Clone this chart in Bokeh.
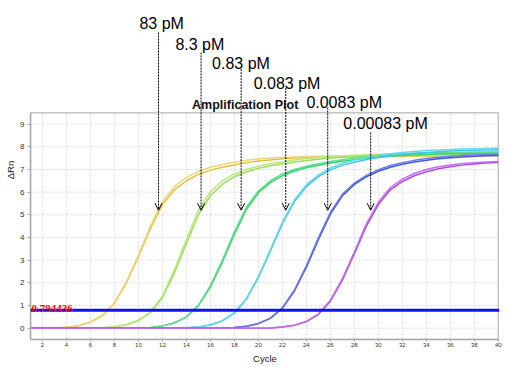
from bokeh.plotting import figure
from bokeh.models import Span, Label, Arrow, OpenHead, Range1d, FixedTicker
from bokeh.embed import file_html
from bokeh.resources import INLINE

# ---------------- data ----------------
cycles = list(range(1, 41))

y83_a = [0.00, 0.00, 0.01, 0.04, 0.11, 0.26, 0.55, 1.10, 2.00, 3.15,
         4.40, 5.45, 6.10, 6.50, 6.78, 6.97, 7.10, 7.20, 7.30, 7.37,
         7.42, 7.47, 7.50, 7.52, 7.54, 7.55, 7.56, 7.57, 7.57, 7.58,
         7.58, 7.58, 7.59, 7.59, 7.59, 7.60, 7.60, 7.60, 7.60, 7.60]
y83_b = [0.00, 0.00, 0.01, 0.04, 0.11, 0.27, 0.57, 1.13, 2.05, 3.22,
         4.50, 5.58, 6.25, 6.65, 6.92, 7.10, 7.22, 7.32, 7.40, 7.46,
         7.50, 7.53, 7.55, 7.57, 7.58, 7.59, 7.60, 7.60, 7.61, 7.61,
         7.61, 7.62, 7.62, 7.62, 7.62, 7.62, 7.62, 7.62, 7.62, 7.62]

y8_3_a = [0.00, 0.00, 0.00, 0.00, 0.00, 0.01, 0.02, 0.06, 0.15, 0.33,
          0.68, 1.35, 2.45, 3.75, 5.00, 5.85, 6.35, 6.68, 6.90, 7.05,
          7.16, 7.25, 7.33, 7.39, 7.45, 7.50, 7.54, 7.57, 7.60, 7.62,
          7.64, 7.65, 7.66, 7.67, 7.68, 7.68, 7.69, 7.69, 7.70, 7.70]
y8_3_b = [0.00, 0.00, 0.00, 0.00, 0.00, 0.01, 0.02, 0.06, 0.16, 0.35,
          0.72, 1.42, 2.58, 3.92, 5.20, 6.02, 6.50, 6.80, 7.00, 7.15,
          7.25, 7.34, 7.42, 7.48, 7.53, 7.57, 7.60, 7.63, 7.65, 7.67,
          7.68, 7.69, 7.70, 7.71, 7.71, 7.72, 7.72, 7.73, 7.73, 7.73]

y0_83_a = [0.00, 0.00, 0.00, 0.00, 0.00, 0.00, 0.00, 0.00, 0.00, 0.01,
           0.03, 0.10, 0.23, 0.49, 0.99, 1.82, 2.92, 4.15, 5.24, 5.97,
           6.42, 6.72, 6.93, 7.07, 7.18, 7.28, 7.36, 7.43, 7.49, 7.54,
           7.58, 7.61, 7.64, 7.66, 7.68, 7.69, 7.70, 7.71, 7.72, 7.72]
y0_83_b = [0.00, 0.00, 0.00, 0.00, 0.00, 0.00, 0.00, 0.00, 0.00, 0.01,
           0.03, 0.10, 0.24, 0.50, 1.02, 1.88, 3.00, 4.25, 5.33, 6.05,
           6.50, 6.80, 7.00, 7.14, 7.25, 7.35, 7.43, 7.50, 7.56, 7.61,
           7.65, 7.68, 7.70, 7.72, 7.74, 7.75, 7.76, 7.77, 7.77, 7.78]

y0_083_a = [0.00, 0.00, 0.00, 0.00, 0.00, 0.00, 0.00, 0.00, 0.00, 0.00,
            0.00, 0.00, 0.00, 0.02, 0.05, 0.14, 0.32, 0.66, 1.28, 2.23,
            3.40, 4.61, 5.58, 6.25, 6.68, 6.98, 7.18, 7.32, 7.44, 7.53,
            7.60, 7.66, 7.71, 7.75, 7.78, 7.81, 7.83, 7.85, 7.86, 7.87]
y0_083_b = [0.00, 0.00, 0.00, 0.00, 0.00, 0.00, 0.00, 0.00, 0.00, 0.00,
            0.00, 0.00, 0.00, 0.02, 0.05, 0.15, 0.33, 0.68, 1.31, 2.28,
            3.47, 4.68, 5.65, 6.32, 6.76, 7.06, 7.26, 7.41, 7.53, 7.62,
            7.69, 7.75, 7.79, 7.83, 7.86, 7.88, 7.90, 7.91, 7.92, 7.93]

y0_0083_a = [0.00, 0.00, 0.00, 0.00, 0.00, 0.00, 0.00, 0.00, 0.00, 0.00,
             0.00, 0.00, 0.00, 0.00, 0.00, 0.00, 0.01, 0.03, 0.08, 0.20,
             0.43, 0.88, 1.64, 2.69, 3.90, 5.03, 5.84, 6.34, 6.67, 6.92,
             7.10, 7.23, 7.33, 7.41, 7.47, 7.52, 7.55, 7.58, 7.60, 7.61]
y0_0083_b = [0.00, 0.00, 0.00, 0.00, 0.00, 0.00, 0.00, 0.00, 0.00, 0.00,
             0.00, 0.00, 0.00, 0.00, 0.00, 0.00, 0.01, 0.03, 0.08, 0.21,
             0.44, 0.90, 1.68, 2.75, 3.98, 5.10, 5.90, 6.40, 6.74, 6.99,
             7.17, 7.30, 7.40, 7.48, 7.54, 7.58, 7.62, 7.64, 7.66, 7.67]

y0_00083_a = [0.00, 0.00, 0.00, 0.00, 0.00, 0.00, 0.00, 0.00, 0.00, 0.00,
              0.00, 0.00, 0.00, 0.00, 0.00, 0.00, 0.00, 0.00, 0.00, 0.00,
              0.01, 0.05, 0.13, 0.29, 0.60, 1.19, 2.12, 3.28, 4.50, 5.45,
              6.10, 6.47, 6.72, 6.90, 7.03, 7.12, 7.19, 7.24, 7.28, 7.31]
y0_00083_b = [0.00, 0.00, 0.00, 0.00, 0.00, 0.00, 0.00, 0.00, 0.00, 0.00,
              0.00, 0.00, 0.00, 0.00, 0.00, 0.00, 0.00, 0.00, 0.00, 0.00,
              0.01, 0.05, 0.13, 0.30, 0.62, 1.23, 2.18, 3.36, 4.60, 5.55,
              6.20, 6.57, 6.82, 7.00, 7.12, 7.20, 7.26, 7.30, 7.33, 7.35]

concentrations = ["83 pM", "8.3 pM", "0.83 pM", "0.083 pM", "0.0083 pM", "0.00083 pM"]
replicates = [[y83_a, y83_b], [y8_3_a, y8_3_b], [y0_83_a, y0_83_b],
              [y0_083_a, y0_083_b], [y0_0083_a, y0_0083_b], [y0_00083_a, y0_00083_b]]
threshold = 0.794436
x_ticks = list(range(2, 41, 2))
y_ticks = list(range(0, 10))
arrow_cycle = [11.67, 15.22, 18.56, 22.28, 25.78, 29.36]
arrow_tip = 5.2

# ---------------- layout / style ----------------
curve_colors = [["#E3C23A", "#EDD679"], ["#9ADF55", "#B9EA82"], ["#35D36E", "#5EDC8C"],
                ["#3CC9E6", "#67D6EE"], ["#4254DE", "#6A78E6"], ["#AE47E4", "#C06FEA"]]
arrow_top = [13.04, 12.16, 11.42, 10.59, 9.73, 8.63]
label_x = [10.08, 13.08, 16.14, 19.61, 24.0, 27.08]
label_y = [13.42, 12.53, 11.65, 10.79, 9.95, 9.03]
box_x = (1, 40)
box_y = (-0.5, 9.5)

p = figure(width=514, height=367, output_backend="svg", toolbar_location=None,
           x_range=Range1d(1, 40.1), y_range=Range1d(-0.5, 14.45),
           min_border_left=30, min_border_right=15, min_border_top=0, min_border_bottom=28)
p.outline_line_color = None
p.grid.visible = False
p.background_fill_color = "white"
p.border_fill_color = "white"

# manual grid limited to the plot box
p.segment(x0=x_ticks, y0=[box_y[0]] * len(x_ticks), x1=x_ticks, y1=[box_y[1]] * len(x_ticks),
          line_color="#d9d9d9", line_width=1, line_dash="2 2")
p.segment(x0=[box_x[0]] * len(y_ticks), y0=y_ticks, x1=[box_x[1]] * len(y_ticks), y1=y_ticks,
          line_color="#d9d9d9", line_width=1, line_dash="2 2")
p.quad(left=[box_x[0]], right=[box_x[1]], bottom=[box_y[0]], top=[box_y[1]],
       fill_color=None, line_color="#c4c4c4", line_width=1.5)

for reps, cols in zip(replicates, curve_colors):
    for vals, col in zip(reps, cols):
        p.line(cycles, vals, line_color=col, line_width=1.5)

p.add_layout(Span(location=threshold, dimension="width", line_color="#1010F0", line_width=3))
p.add_layout(Label(x=box_x[0], y=threshold, x_offset=1, y_offset=1.5, text=str(threshold),
                   text_color="#FF0000", text_font="Liberation Serif", text_font_style="bold",
                   text_font_size="11px", text_baseline="alphabetic"))

p.add_layout(Label(x=14.47, y=9.85, text="Amplification Plot", text_font="Liberation Sans",
                   text_font_style="bold", text_font_size="12.5px", text_color="#111111",
                   text_baseline="alphabetic"))

for name, cx, top, lx, ly in zip(concentrations, arrow_cycle, arrow_top, label_x, label_y):
    p.add_layout(Arrow(x_start=cx, y_start=top, x_end=cx, y_end=arrow_tip,
                       line_color="black", line_width=1, line_dash="2 1",
                       end=OpenHead(size=7, line_color="black", line_width=1)))
    p.add_layout(Label(x=lx, y=ly, text=name, text_font="Liberation Sans",
                       text_font_size="16px", text_color="black", text_baseline="alphabetic"))

# axes
p.xaxis.ticker = FixedTicker(ticks=x_ticks)
p.yaxis.ticker = FixedTicker(ticks=y_ticks)
p.yaxis.bounds = box_y
p.xaxis.bounds = box_x
for ax in (p.xaxis[0], p.yaxis[0]):
    ax.axis_line_color = "#a8a8a8"
    ax.axis_line_width = 1.5
    ax.major_tick_line_color = "#a8a8a8"
    ax.major_tick_in = 0
    ax.minor_tick_line_color = None
    ax.major_label_text_font = "Liberation Sans"
    ax.major_label_text_color = "#333333"
    ax.axis_label_text_font = "Liberation Sans"
    ax.axis_label_text_font_style = "normal"
    ax.axis_label_text_color = "#222222"
    ax.axis_label_text_font_size = "9.5px"
p.xaxis.major_tick_out = 2
p.xaxis.major_label_standoff = 1
p.xaxis.major_label_text_font_size = "6px"
p.xaxis.axis_label = "Cycle"
p.xaxis.axis_label_standoff = 3
p.yaxis.major_tick_out = 3
p.yaxis.major_label_standoff = 3
p.yaxis.major_label_text_font_size = "8px"
p.yaxis.axis_label = "ΔRn"
p.yaxis.axis_label_standoff = 1

open("out.html", "w").write(file_html(p, INLINE))
